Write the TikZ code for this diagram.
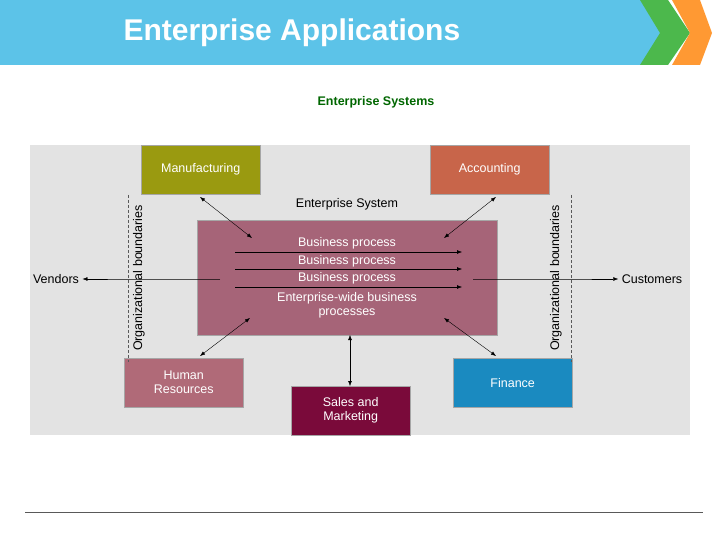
\documentclass[tikz,border=0pt]{standalone}
\usepackage{fontspec}
\setmainfont{Liberation Sans}
\usetikzlibrary{positioning,arrows.meta}
\definecolor{banner}{HTML}{5CC3E8}
\definecolor{mfg}{HTML}{9A9A10}
\definecolor{acc}{HTML}{C8654A}
\definecolor{core}{HTML}{A66478}
\definecolor{hr}{HTML}{B06A78}
\definecolor{sales}{HTML}{7A0A3A}
\definecolor{fin}{HTML}{1A8AC0}
\tikzset{
  lbl/.style={font=\fontsize{12.5}{14}\selectfont},
  unit/.style={lbl, draw=gray!70, text=white, minimum width=119pt, minimum height=49pt, inner sep=1pt, align=center},
  link/.style={{Latex[length=5pt]}-{Latex[length=5pt]}, thin},
  flow/.style={-{Latex[length=5pt]}, thin},
  bound/.style={densely dashed, gray!70!black},
}
\begin{document}
\begin{tikzpicture}[x=1pt,y=-1pt]
  \useasboundingbox (0,0) rectangle (720,540);
  % banner
  \fill[banner] (0,0) -- (660,0) -- (680,33) -- (660,65) -- (0,65) -- cycle;
  \fill[green!60!black!70] (640,0) -- (668,0) -- (690,33) -- (668,65) -- (640,65) -- (660,33) -- cycle;
  \fill[orange!80] (672,0) -- (700,0) -- (712,33) -- (700,65) -- (672,65) -- (690,33) -- cycle;
  \node[text=white, font=\bfseries\fontsize{30}{34}\selectfont, anchor=west] (title) at (120,33) {Enterprise Applications};
  \node[text=green!40!black, font=\bfseries\fontsize{12.5}{14}\selectfont] (sub) at (376,102) {Enterprise Systems};
  % background
  \fill[gray!22] (30,145) rectangle (690,435);
  % boxes
  \node[unit, fill=mfg, anchor=north west] (mfg) at (141,145) {Manufacturing};
  \node[unit, fill=acc, anchor=north west] (acc) at (430,145) {Accounting};
  \node[unit, fill=hr, anchor=north west] (hr) at (124,358) {Human\\Resources};
  \node[unit, fill=sales, anchor=north west] (sales) at (291,386) {Sales and\\Marketing};
  \node[unit, fill=fin, anchor=north west] (fin) at (453,358) {Finance};
  \node[draw=gray!70, fill=core, minimum width=300pt, minimum height=115pt, anchor=north west] (core) at (197,220) {};
  \node[lbl] (es) at (347,204) {Enterprise System};
  \node[lbl, text=white] (bp1) at (347,243) {Business process};
  \node[lbl, text=white] (bp2) at (347,261) {Business process};
  \node[lbl, text=white] (bp3) at (347,278) {Business process};
  \node[lbl, text=white, align=center] (ewb) at (347,305) {Enterprise-wide business\\processes};
  \foreach \y in {252,269,287} \draw[flow] (235,\y) -- (462,\y);
  % boundaries
  \draw[bound] (128,195) -- (128,362);
  \draw[bound] (571,195) -- (571,362);
  \node[lbl, rotate=90] (ob1) at (139,278) {Organizational boundaries};
  \node[lbl, rotate=90] (ob2) at (556,278) {Organizational boundaries};
  \node[lbl] (ven) at (56,279) {Vendors};
  \node[lbl] (cus) at (652,279) {Customers};
  \coordinate (lb) at (128,279);
  \coordinate (rb) at (571,279);
  \draw[flow] (220,279) -- (lb) -- (ven);
  \draw[flow] (473,279) -- (rb) -- (cus);
  % links
  \draw[link] (200,197) -- (252,238);
  \draw[link] (496,197) -- (444,238);
  \draw[link] (200,356) -- (250,318);
  \draw[link] (496,356) -- (444,318);
  \draw[link] (350,335) -- (350,386);
  % footer
  \draw[gray!70!black] (25,512) -- (703,512);
\end{tikzpicture}
\end{document}
